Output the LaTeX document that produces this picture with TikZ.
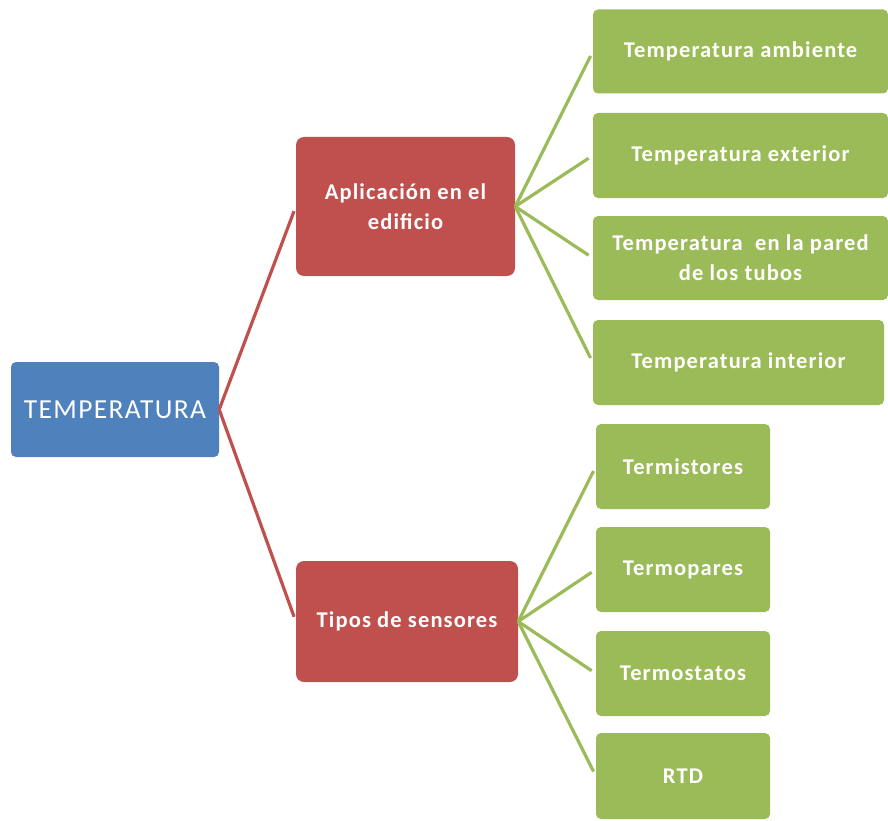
\documentclass[tikz,border=0pt]{standalone}
\usepackage{fontspec}
\setmainfont{Carlito}
\newfontfamily\boxfont[LetterSpace=5]{Carlito}
\usetikzlibrary{positioning}

\definecolor{tempblue}{HTML}{4F81BD}
\definecolor{tempred}{HTML}{C0504D}
\definecolor{tempgreen}{HTML}{9BBB59}

\tikzset{
  rootbox/.style={fill=tempblue, text=white, rounded corners=5pt, minimum width=208pt, minimum height=95pt, font=\boxfont\fontsize{27.5}{30}\selectfont},
  midbox/.style={fill=tempred, text=white, rounded corners=8pt, align=center, font=\boxfont\bfseries\fontsize{22.5}{30}\selectfont},
  leafbox/.style={fill=tempgreen, text=white, rounded corners=5pt, align=center, font=\boxfont\bfseries\fontsize{22.5}{30}\selectfont},
  redline/.style={tempred, line width=3.2pt, shorten >=5pt},
  greenline/.style={tempgreen, line width=3.2pt, shorten >=5pt}
}

\begin{document}
\begin{tikzpicture}[x=1pt, y=-1pt]
    \useasboundingbox (0,0) rectangle (888,821);
    % root and branches
    \node[rootbox] (temp) at (115,409.5) {TEMPERATURA};
    \node[midbox, minimum width=219pt, minimum height=139pt] (apl) at (405.5,206.5) {Aplicación en el\\edificio};
    \node[midbox, minimum width=222pt, minimum height=121pt] (tipos) at (407,621.5) {Tipos de sensores};
    % leaves, first group
    \node[leafbox, minimum width=295pt, minimum height=84pt] (amb) at (740.5,51.5) {Temperatura ambiente};
    \node[leafbox, minimum width=295pt, minimum height=85pt] (ext) at (740.5,155.5) {Temperatura exterior};
    \node[leafbox, minimum width=295pt, minimum height=84pt] (pared) at (740.5,258) {Temperatura\ \ en la pared\\de los tubos};
    \node[leafbox, minimum width=291pt, minimum height=85pt] (inter) at (738.5,362.5) {Temperatura interior};
    % leaves, second group
    \node[leafbox, minimum width=174pt, minimum height=85pt] (termis) at (683,466.5) {Termistores};
    \node[leafbox, minimum width=174pt, minimum height=85pt] (termop) at (683,569.5) {Termopares};
    \node[leafbox, minimum width=174pt, minimum height=85pt] (termost) at (683,673.5) {Termostatos};
    \node[leafbox, minimum width=174pt, minimum height=86pt] (rtd) at (683,776) {RTD};
    % connectors
    \draw[redline] (temp.east) -- (apl.west);
    \draw[redline] (temp.east) -- (tipos.west);
    \foreach \leaf in {amb,ext,pared,inter}
        \draw[greenline] (apl.east) -- (\leaf.west);
    \foreach \leaf in {termis,termop,termost,rtd}
        \draw[greenline] (tipos.east) -- (\leaf.west);
\end{tikzpicture}
\end{document}
